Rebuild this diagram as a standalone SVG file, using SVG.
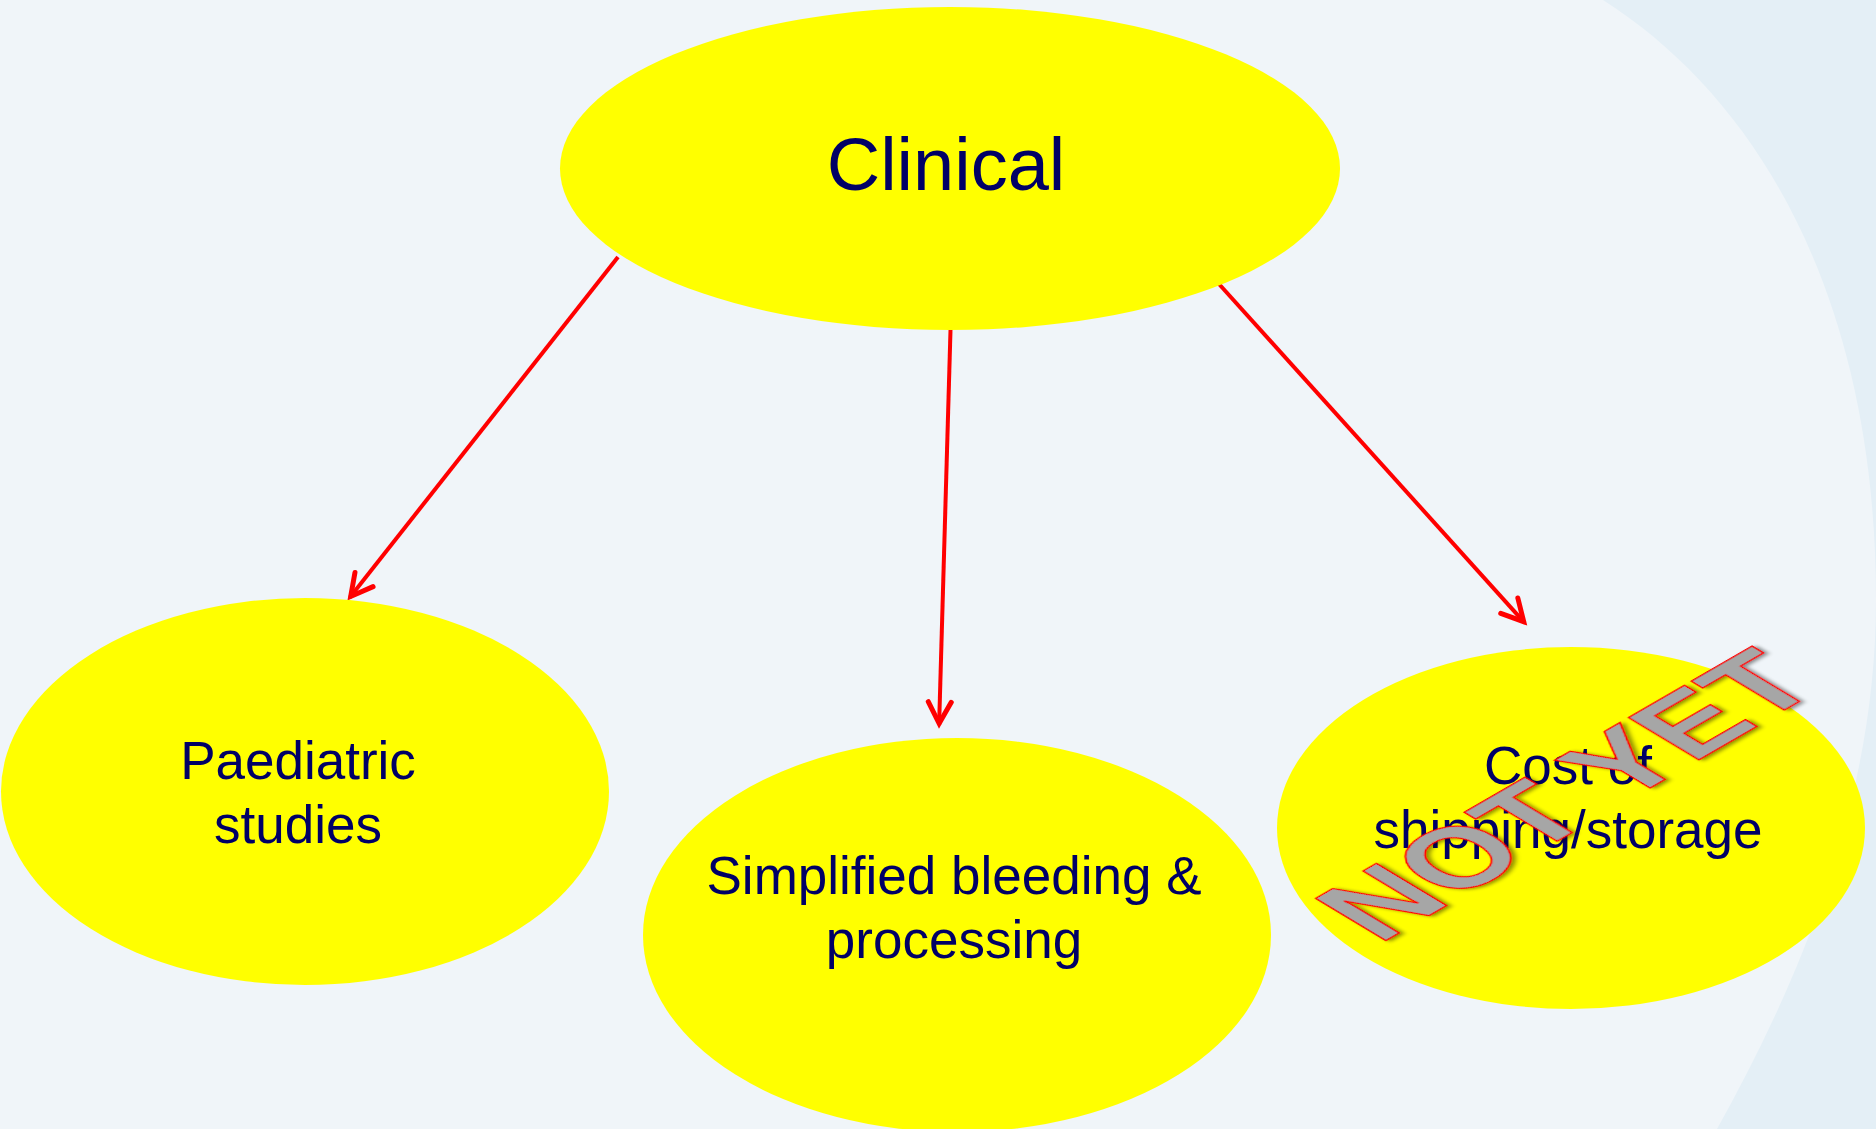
<svg xmlns="http://www.w3.org/2000/svg" width="1876" height="1129" viewBox="0 0 1876 1129">
  <style>
    .node { fill: #FFFF00; }
    .label { font-family: "Liberation Sans", Arial, sans-serif; fill: #000066; text-anchor: middle; }
    .conn { stroke: #FF0000; stroke-width: 4; fill: none; marker-end: url(#arrow); }
    .stamp { font-family: "Liberation Sans", Arial, sans-serif; font-weight: bold; font-size: 119px; fill: #A6A6A6; stroke: #FF0000; stroke-width: 1.6; filter: url(#shadow); }
  </style>
  <defs>
    <marker id="arrow" markerUnits="userSpaceOnUse" viewBox="-32 -16 36 32" markerWidth="36" markerHeight="32" refX="-3" refY="0" orient="auto">
      <path d="M-26,-11.5 L-4.5,0 L-26,11.5" fill="none" stroke="#FF0000" stroke-width="5" stroke-linecap="round" stroke-linejoin="miter"/>
    </marker>
    <filter id="shadow" x="-20%" y="-40%" width="140%" height="180%">
      <feDropShadow dx="2" dy="3" stdDeviation="2" flood-color="#000000" flood-opacity="0.45"/>
    </filter>
  </defs>

  <rect x="0" y="0" width="1876" height="1129" fill="#E4EFF6"/>
  <path d="M1603,0 C1760,100 1876,300 1876,600 C1876,800 1800,980 1717,1129 L0,1129 L0,0 Z" fill="#F0F5F9"/>

  <g id="connectors">
    <line class="conn" x1="618" y1="257" x2="349.8" y2="597.6"/>
    <line class="conn" x1="950.5" y1="330" x2="939.1" y2="725"/>
    <line class="conn" x1="1219" y1="284" x2="1524.7" y2="622.8"/>
  </g>

  <g id="node-clinical">
    <ellipse class="node" cx="950" cy="168.5" rx="390" ry="161.5"/>
    <text class="label" x="946" y="190" font-size="74">Clinical</text>
  </g>

  <g id="node-paediatric">
    <ellipse class="node" cx="305" cy="791.5" rx="304" ry="193.5"/>
    <text class="label" font-size="53"><tspan x="298" y="779">Paediatric</tspan><tspan x="298" y="843">studies</tspan></text>
  </g>

  <g id="node-simplified">
    <ellipse class="node" cx="957" cy="935" rx="314" ry="197"/>
    <text class="label" font-size="53"><tspan x="954" y="894">Simplified bleeding &amp;</tspan><tspan x="954" y="958">processing</tspan></text>
  </g>

  <g id="node-cost">
    <ellipse class="node" cx="1571" cy="828" rx="294" ry="181"/>
    <text class="label" font-size="53"><tspan x="1568" y="784">Cost of</tspan><tspan x="1568" y="848">shipping/storage</tspan></text>
  </g>

  <g id="stamp-not-yet">
    <text class="stamp" transform="matrix(0.866,-0.5,0.852,0.512,1379,944.5)" x="0" y="0">NOT YET</text>
  </g>
</svg>
